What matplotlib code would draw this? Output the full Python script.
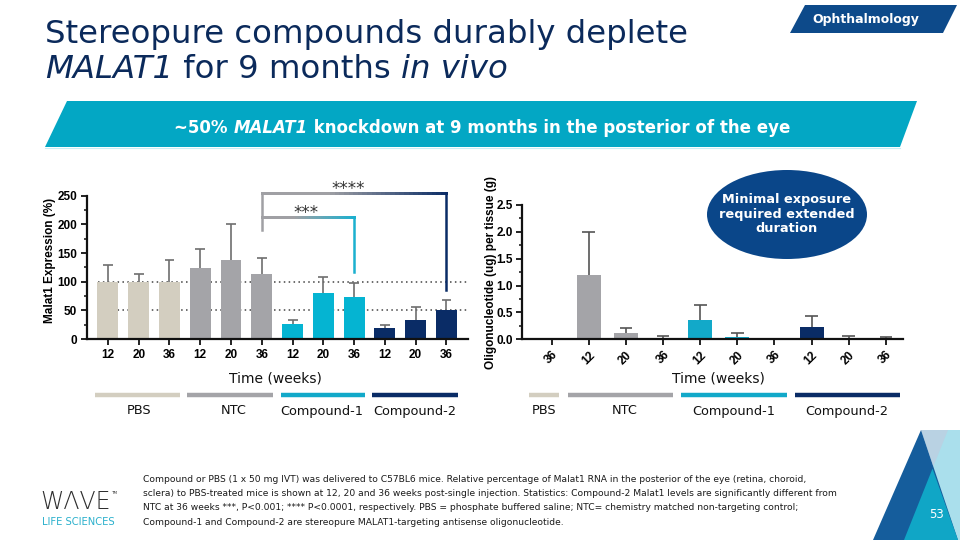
import numpy as np
import matplotlib
matplotlib.use("Agg")
import matplotlib.pyplot as plt
from matplotlib.patches import Polygon, Ellipse
from matplotlib.collections import LineCollection
from matplotlib.colors import to_rgb

W, H = 960, 540

# ---- data ----
groups = ["PBS", "NTC", "Compound-1", "Compound-2"]
malat1_labels = ["12", "20", "36", "12", "20", "36", "12", "20", "36", "12", "20", "36"]
malat1_group = [0, 0, 0, 1, 1, 1, 2, 2, 2, 3, 3, 3]
malat1_mean = [100, 100, 100, 123, 137, 113, 27, 81, 74, 19, 33, 50]
malat1_err = [29, 13, 37, 34, 63, 29, 7, 27, 23, 6, 22, 18]

oligo_labels = ["36", "12", "20", "36", "12", "20", "36", "12", "20", "36"]
oligo_group = [0, 1, 1, 1, 2, 2, 2, 3, 3, 3]
oligo_mean = [0.0, 1.19, 0.11, 0.01, 0.36, 0.04, 0.0, 0.22, 0.03, 0.01]
oligo_err = [0.0, 0.81, 0.10, 0.05, 0.27, 0.07, 0.0, 0.22, 0.04, 0.03]

bar_colors = ["#d3cec0", "#a4a4a8", "#05b4d2", "#0a2c66"]
oligo_colors = ["#d3cec0", "#a4a4a8", "#12a9c9", "#0a2c66"]
NAVY = "#0b2a5b"
CYAN = "#03a7c4"

fig = plt.figure(figsize=(9.6, 5.4), dpi=100)
fig.patch.set_facecolor("white")


def fx(x):
    return x / W


def fy(y):
    return 1 - y / H


def px_axes(x0, y0, x1, y1):
    # pixel box (top-left origin) -> figure axes
    return fig.add_axes([fx(x0), fy(y1), (x1 - x0) / W, (y1 - y0) / H])


def rich(x, y, parts, **kw):
    """Place text pieces one after the other (x in px, baseline y in px)."""
    r = fig.canvas.get_renderer()
    out = []
    for s, style in parts:
        t = fig.text(fx(x), fy(y), s, style=style, va="baseline", **kw)
        x += t.get_window_extent(r).width
        out.append(t)
    return x, out


def style_axes(ax):
    for s in ("top", "right"):
        ax.spines[s].set_visible(False)
    for s in ("left", "bottom"):
        ax.spines[s].set_linewidth(1.6)
        ax.spines[s].set_color("#111111")
    ax.tick_params(axis="both", which="major", length=4, width=1.3, color="#111111",
                   labelsize=8.5, pad=3)
    ax.tick_params(axis="y", which="minor", length=2.5, width=1.1, color="#111111")
    for lab in ax.get_xticklabels() + ax.get_yticklabels():
        lab.set_fontweight("bold")
        lab.set_family("Liberation Sans")


def upper_err(ax, x, mean, err, half, color):
    # one-sided (upper) error bars: stem from the bar top plus a cap
    top = np.asarray(mean) + np.asarray(err)
    ax.vlines(x, mean, top, color=color, lw=1.2, zorder=1)
    ax.hlines(top, np.asarray(x) - half, np.asarray(x) + half, color=color, lw=1.2, zorder=1)


# ---- left panel: Malat1 expression ----
ax1 = px_axes(87, 195.7, 468, 339)
x1 = np.arange(len(malat1_mean))
c1 = [bar_colors[g] for g in malat1_group]
ax1.axhline(100, xmin=0.03, color="#444444", ls=(0, (1, 2.2)), lw=1.1, zorder=0)
ax1.axhline(50, xmin=0.03, color="#444444", ls=(0, (1, 2.2)), lw=1.1, zorder=0)
ax1.bar(x1, malat1_mean, width=0.68, color=c1, zorder=2)
upper_err(ax1, x1, malat1_mean, malat1_err, 0.16, "#6e6e6e")
ax1.set_xlim(-0.68, 11.7)
ax1.set_ylim(0, 250)
ax1.set_yticks([0, 50, 100, 150, 200, 250])
ax1.set_yticks(np.arange(25, 250, 25), minor=True)
ax1.set_xticks(x1)
ax1.set_xticklabels(malat1_labels)
style_axes(ax1)
ax1.set_ylabel("Malat1 Expression (%)", fontsize=8.5, fontweight="bold",
               family="Liberation Sans")
ax1.yaxis.set_label_coords(-0.082, 0.55)


def grad_line(ax, xa, xb, y, ca, cb, n=40):
    xs = np.linspace(xa, xb, n + 1)
    segs = [[(xs[i], y), (xs[i + 1], y)] for i in range(n)]
    a, b = np.array(to_rgb(ca)), np.array(to_rgb(cb))
    cols = [a + (b - a) * min(1, max(0, (i / n - 0.35) / 0.65)) for i in range(n)]
    lc = LineCollection(segs, colors=cols, linewidths=1.8, clip_on=False, zorder=4,
                        capstyle="projecting", antialiaseds=False)
    ax.add_collection(lc)


GRAY_BR = "#a0a0a4"
ax1.plot([5, 5], [190, 255], color=GRAY_BR, lw=1.8, clip_on=False, zorder=4)
grad_line(ax1, 5, 11, 255, GRAY_BR, "#0a2c66")
ax1.plot([11, 11], [255, 85], color="#0a2c66", lw=1.8, clip_on=False, zorder=4)
grad_line(ax1, 5, 8, 213, GRAY_BR, "#1bb0cf")
ax1.plot([8, 8], [213, 117], color="#1bb0cf", lw=1.8, clip_on=False, zorder=4)
ax1.text(7.8, 262, "****", ha="center", va="center", fontsize=12, color="#333333")
ax1.text(6.45, 219, "***", ha="center", va="center", fontsize=12, color="#333333")

# ---- right panel: oligonucleotide exposure ----
ax2 = px_axes(522.3, 205, 903, 339.3)
x2 = np.arange(len(oligo_mean))
c2 = [oligo_colors[g] for g in oligo_group]
ax2.bar(x2, oligo_mean, width=0.65, color=c2, zorder=2)
upper_err(ax2, x2, oligo_mean, oligo_err, 0.17, "#555555")
ax2.set_xlim(-0.79, 9.46)
ax2.set_ylim(0, 2.5)
ax2.set_yticks([0, 0.5, 1.0, 1.5, 2.0, 2.5])
ax2.set_yticklabels(["0.0", "0.5", "1.0", "1.5", "2.0", "2.5"])
ax2.set_yticks(np.arange(0.25, 2.5, 0.25), minor=True)
ax2.set_xticks(x2)
ax2.set_xticklabels(oligo_labels, rotation=45, ha="right", rotation_mode="anchor")
style_axes(ax2)
ax2.set_ylabel("Oligonucleotide (ug) per tissue (g)", fontsize=8.5, fontweight="bold",
               family="Liberation Sans")
ax2.yaxis.set_label_coords(-0.066, 0.5)

# call-out ellipse
fig.patches.append(Ellipse((fx(787), fy(214.5)), 160 / W, 89 / H, transform=fig.transFigure,
                           facecolor="#0a4689", edgecolor="none", zorder=5))
fig.text(fx(787), fy(214), "Minimal exposure\nrequired extended\nduration", ha="center",
         va="center", color="white", fontsize=9.3, fontweight="bold", linespacing=1.15,
         zorder=6)

# ---- axis titles and group legends ----
fig.text(fx(275), fy(379), "Time (weeks)", ha="center", va="center", fontsize=10,
         color="#111111")
fig.text(fx(718), fy(379), "Time (weeks)", ha="center", va="center", fontsize=10,
         color="#111111")

leg_left = [(94.7, 179.5, 138.6), (187, 272.7, 234), (280.5, 365, 322), (372, 458, 415)]
leg_right = [(529, 559, 544), (568, 672.6, 624.5), (681, 787, 734), (795, 900, 847)]
for spans in (leg_left, leg_right):
    for (xa, xb, xc), name, col in zip(spans, groups, oligo_colors):
        fig.add_artist(plt.Line2D([fx(xa), fx(xb)], [fy(395), fy(395)], color=col, lw=3.2,
                                  solid_capstyle="butt"))
        fig.text(fx(xc), fy(411), name, ha="center", va="center", fontsize=9.3,
                 color="#111111")

# ---- header ----
rich(45, 43, [("Stereopure compounds durably deplete", "normal")], fontsize=23.3, color=NAVY)
rich(45, 78, [("MALAT1", "italic"), (" for 9 months ", "normal"), ("in vivo", "italic")],
     fontsize=23.3, color=NAVY)

fig.patches.append(Polygon([(fx(790), fy(33)), (fx(805), fy(5)), (fx(957), fy(5)),
                            (fx(943), fy(33))], closed=True, transform=fig.transFigure,
                           facecolor="#0d4a8a", edgecolor="none"))
fig.text(fx(866), fy(19), "Ophthalmology", ha="center", va="center", fontsize=9,
         fontweight="bold", color="white")

fig.patches.append(Polygon([(fx(45), fy(147)), (fx(67), fy(101)), (fx(917), fy(101)),
                            (fx(900), fy(147))], closed=True, transform=fig.transFigure,
                           facecolor=CYAN, edgecolor="none"))
fig.add_artist(plt.Line2D([fx(45), fx(900)], [fy(148), fy(148)], color="#c8eef5", lw=0.8))
banner = [("~50% ", "normal"), ("MALAT1", "italic"),
          (" knockdown at 9 months in the posterior of the eye", "normal")]
xe, tmp = rich(0, -100, banner, fontsize=12, fontweight="bold", color="white")
for t in tmp:
    t.remove()
rich(482 - xe / 2, 133, banner, fontsize=12, fontweight="bold", color="white")

# ---- footer ----
fig.text(fx(40), fy(509), "W\u039bVE", fontsize=17, color="#2e2e2e", va="baseline",
         fontweight="light")
fig.text(fx(111), fy(493), "TM", fontsize=3, color="#2e2e2e", va="center")
fig.text(fx(42), fy(522), "LIFE SCIENCES", fontsize=7.2, color="#2ab0cc", va="center")

foot = ["Compound or PBS (1 x 50 mg IVT) was delivered to C57BL6 mice. Relative percentage of "
        "Malat1 RNA in the posterior of the eye (retina, choroid,",
        "sclera) to PBS-treated mice is shown at 12, 20 and 36 weeks post-single injection. "
        "Statistics: Compound-2 Malat1 levels are significantly different from",
        "NTC at 36 weeks ***, P<0.001; **** P<0.0001, respectively. PBS = phosphate buffered "
        "saline; NTC= chemistry matched non-targeting control;",
        "Compound-1 and Compound-2 are stereopure MALAT1-targeting antisense oligonucleotide."]
for i, line in enumerate(foot):
    fig.text(fx(143), fy(479 + 14.5 * i), line, fontsize=6.55, color="#1a1a1a", va="center")

# corner decoration
corner = [
    ([(921, 430), (960, 430), (960, 540), (958, 540)], "#b9d2e3"),
    ([(948, 430), (960, 430), (960, 540), (904, 540)], "#aadfec"),
    ([(873, 540), (921, 430), (958, 540)], "#155d9c"),
    ([(904, 540), (932.5, 468.6), (958, 540)], "#10a6c6"),
]
for pts, col in corner:
    fig.patches.append(Polygon([(fx(a), fy(b)) for a, b in pts], closed=True,
                               transform=fig.transFigure, facecolor=col, edgecolor="none"))
fig.text(fx(937), fy(514), "53", ha="center", va="center", fontsize=8.5, color="white")

fig.savefig("out.png", dpi=100)
